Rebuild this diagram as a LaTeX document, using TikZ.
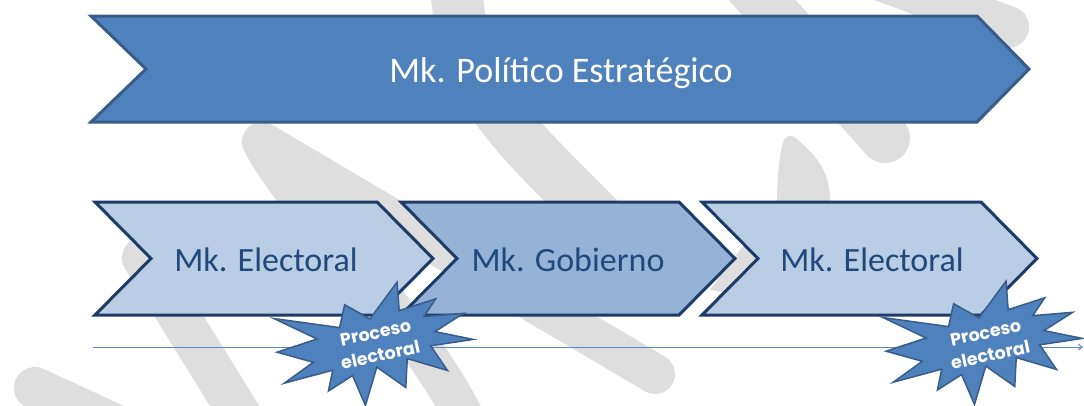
\documentclass[tikz,border=0pt]{standalone}
\usepackage{fontspec}
\setmainfont{Carlito}
\newfontfamily\starfont{Poppins}
\usetikzlibrary{arrows.meta}
\definecolor{wm}{HTML}{DEDEDE}
\definecolor{topfill}{HTML}{4F81BD}
\definecolor{topline}{HTML}{385D8A}
\definecolor{lightfill}{HTML}{B9CDE5}
\definecolor{midfill}{HTML}{95B3D7}
\definecolor{navy}{HTML}{1D3B68}
\definecolor{txtblue}{HTML}{1F497D}
\definecolor{tlblue}{HTML}{5A88C2}
\begin{document}
\begin{tikzpicture}[x=1pt,y=-1pt,
  wmstroke/.style={draw=wm,line cap=round,line join=round},
  topchev/.style={fill=topfill,draw=topline,line width=3pt,line join=miter},
  lowchev/.style={draw=navy,line width=3pt,line join=miter},
  toptext/.style={text=white,font=\fontsize{36}{40}\selectfont,anchor=base,inner sep=0pt},
  lowtext/.style={text=txtblue,font=\fontsize{34}{38}\selectfont,anchor=base,inner sep=0pt},
  bursttext/.style={text=white,font=\starfont\bfseries\fontsize{17.5}{23}\selectfont,align=center,inner sep=0pt},
  burst/.pic={
    \begin{scope}[x=0.9028pt,y=-0.5324pt,shift={(-108,-108)}]
    \draw[fill=topfill,draw=topline,line width=1.5pt,line join=miter]
      (108,58) -- (145.22,0) -- (141.55,53.25) -- (183.80,44.57) -- (167.02,73.15)
      -- (210.97,81.37) -- (176.07,104.75) -- (216,132.90) -- (168.37,129.42)
      -- (181.45,180.95) -- (140.20,144.57) -- (132.47,197.37) -- (105.32,149.35)
      -- (84.85,216) -- (77.15,156.27) -- (47.62,176.17) -- (56.67,139.37)
      -- (1.35,145.87) -- (37.22,117.75) -- (0,86.15) -- (46.27,76.17)
      -- (3.70,22.95) -- (73.12,63.20) -- (83.52,22.95) -- cycle;
    \end{scope}
  }]
\useasboundingbox (0,0) rectangle (1084,405);
% watermark
\begin{scope}
  \clip (0,0) rectangle (1084,405);
  \draw[wmstroke,line width=42pt] (35,388) -- (180,455);
  \draw[wmstroke,line width=42pt] (143,258) -- (265,455);
  \draw[wmstroke,line width=40pt] (655,374) -- (262,142) .. controls (300,215) and (420,320) .. (470,430);
  \draw[wmstroke,line width=52pt] (456,-20) .. controls (460,80) and (500,120) .. (580,200) -- (650,270);
  \fill[wm] (782,146) .. controls (784,135) and (791,133) .. (798,140)
     .. controls (815,155) and (830,170) .. (830,200) -- (775,300) -- (710,290) -- (777,200)
     .. controls (777,180) and (779,160) .. (782,146) -- cycle;
  \draw[wmstroke,line width=50pt] (740,-25) -- (885,138);
  \draw[wmstroke,line width=42pt] (840,-35) -- (1008,27);
\end{scope}
% top chevron
\draw[topchev] (91,16) -- (977,16) -- (1029,69) -- (977,122) -- (91,122) -- (146,69) -- cycle;
\node[toptext] (top) at (561,82) {Mk. Político Estratégico};
% lower chevrons
\draw[lowchev,fill=lightfill] (95,202) -- (377,202) -- (433,258.5) -- (377,315) -- (95,315) -- (151,258.5) -- cycle;
\draw[lowchev,fill=midfill] (401,202) -- (679,202) -- (735,258.5) -- (679,315) -- (401,315) -- (457,258.5) -- cycle;
\draw[lowchev,fill=lightfill] (702,202) -- (981,202) -- (1037,258.5) -- (981,315) -- (702,315) -- (758,258.5) -- cycle;
\node[lowtext] (elec1) at (266,271) {Mk. Electoral};
\node[lowtext] (gob) at (568,271) {Mk. Gobierno};
\node[lowtext] (elec2) at (872,271) {Mk. Electoral};
% timeline
\coordinate (tlstart) at (93,347);
\coordinate (tlend) at (1083,347);
\draw[tlblue,line width=1pt,-{Straight Barb[length=4pt,width=6pt]}] (tlstart) -- (tlend);
% bursts
\pic[rotate=11] at (375,345) {burst};
\pic[rotate=11] at (984,344) {burst};
\node[bursttext,rotate=12] (pe1) at (378,344) {Proceso\\electoral};
\node[bursttext,rotate=12] (pe2) at (988,344) {Proceso\\electoral};
\end{tikzpicture}
\end{document}
